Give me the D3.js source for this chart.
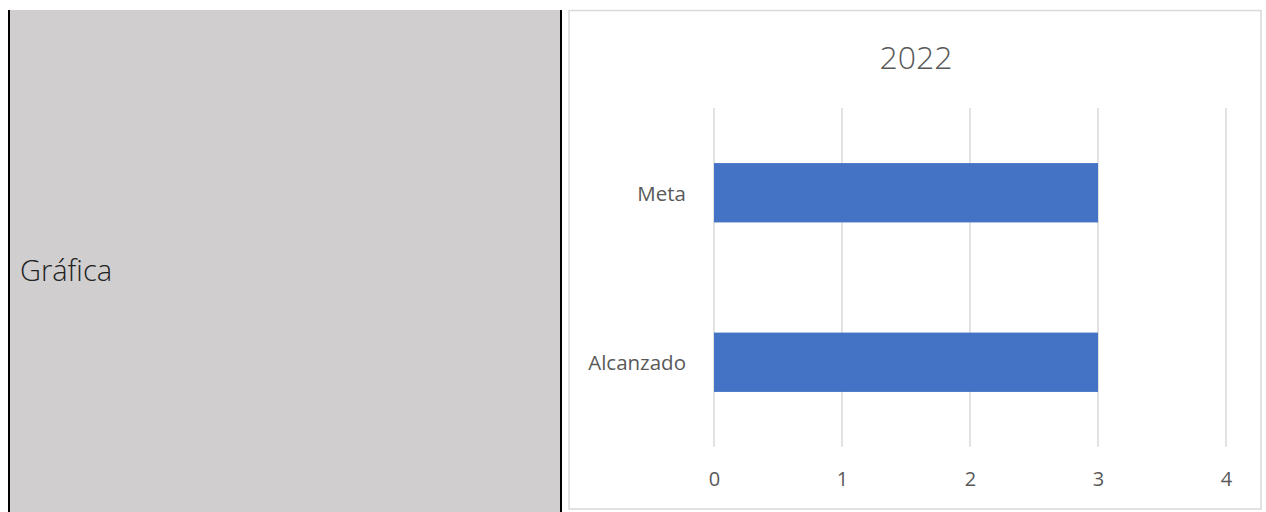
<!DOCTYPE html>
<html><head><meta charset="utf-8">
<script src="https://cdn.jsdelivr.net/npm/d3@7"></script>
<style>html,body{margin:0;padding:0;background:#fff;}svg{display:block;}</style>
</head><body>
<svg id="c" width="1266" height="512"></svg>
<script>
const title = "2022";
const sideLabel = "Gráfica";
const categories = ["Meta", "Alcanzado"];
const values = [3, 3];
const xTicks = [0, 1, 2, 3, 4];

const svg = d3.select("#c");
// left gray panel
svg.append("rect").attr("x", 10).attr("y", 10).attr("width", 550).attr("height", 502).attr("fill", "#d0cecf");
svg.append("rect").attr("x", 8).attr("y", 10).attr("width", 2).attr("height", 502).attr("fill", "#000");
svg.append("rect").attr("x", 560).attr("y", 10).attr("width", 2).attr("height", 502).attr("fill", "#000");
svg.append("text").attr("x", 20).attr("y", 281).text(sideLabel)
  .attr("font-family", "'Open Sans'").attr("font-weight", 300).attr("font-size", 29).attr("fill", "#222");

// chart frame
svg.append("rect").attr("x", 569).attr("y", 10.5).attr("width", 692).attr("height", 498.5)
  .attr("fill", "#fff").attr("stroke", "#d9d9d9").attr("stroke-width", 1.5);

const x = d3.scaleLinear().domain([0, 4]).range([714, 1226]);
const y = d3.scaleBand().domain(categories).range([108, 447]).paddingInner(0.65).paddingOuter(0.325);

const g = svg.append("g");
g.selectAll("line.grid").data(xTicks).join("line").attr("class", "grid")
  .attr("x1", d => x(d)).attr("x2", d => x(d)).attr("y1", 108).attr("y2", 447)
  .attr("stroke", "#d9d9d9").attr("stroke-width", 1.5);

g.selectAll("rect.bar").data(categories).join("rect").attr("class", "bar")
  .attr("x", x(0)).attr("y", d => y(d)).attr("width", (d, i) => x(values[i]) - x(0))
  .attr("height", y.bandwidth()).attr("fill", "#4472c4");

const xAxis = d3.axisBottom(x).tickValues(xTicks).tickFormat(d3.format("d")).tickSize(0).tickPadding(0);
const ax = svg.append("g").attr("transform", "translate(0,472)").call(xAxis);
ax.select(".domain").remove();
ax.selectAll("text").attr("font-family", "'Open Sans'").attr("font-size", 20).attr("fill", "#595959").attr("dy", "0.71em");

const yAxis = d3.axisLeft(y).tickSize(0).tickPadding(28);
const ay = svg.append("g").attr("transform", `translate(${x(0)},1.5)`).call(yAxis);
ay.select(".domain").remove();
ay.selectAll("text").attr("font-family", "'Open Sans'").attr("font-size", 20.5).attr("fill", "#595959");

svg.append("text").attr("x", 916).attr("y", 69).attr("text-anchor", "middle").text(title)
  .attr("font-family", "'Open Sans'").attr("font-weight", 300).attr("font-size", 32).attr("fill", "#595959");
</script>
</body></html>
